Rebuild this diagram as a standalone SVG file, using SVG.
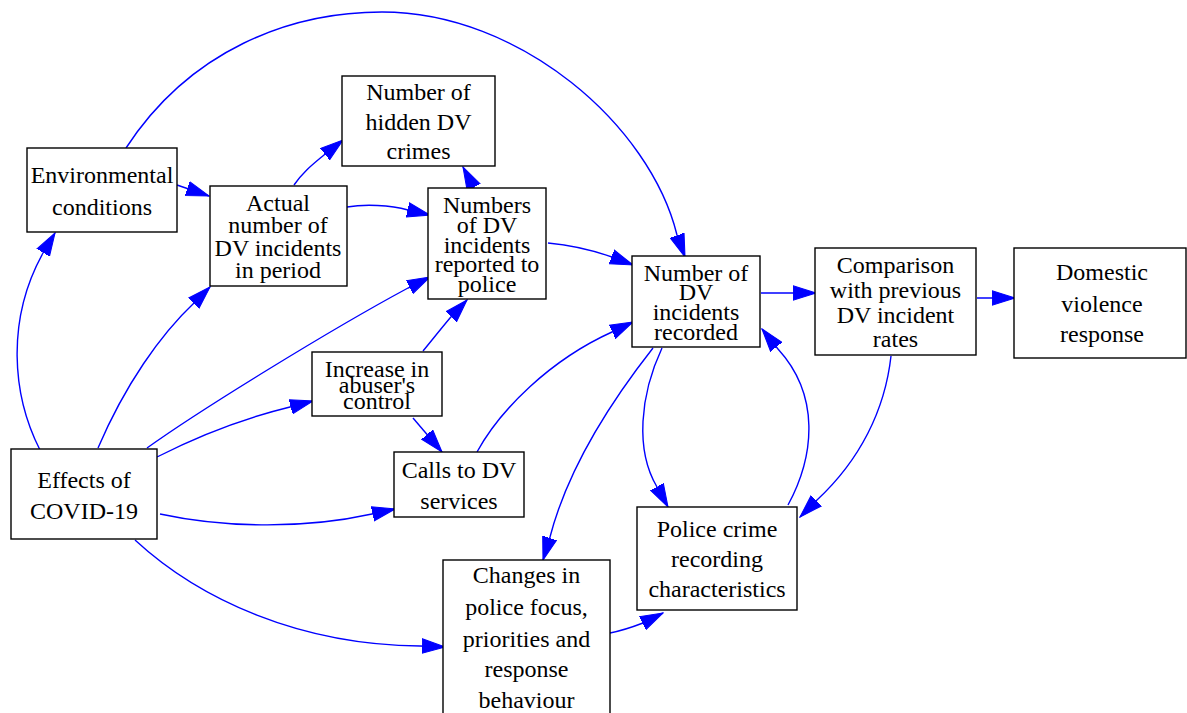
<svg xmlns="http://www.w3.org/2000/svg" width="1187" height="713" viewBox="0 0 1187 713">
  <style>
    .box { fill: #ffffff; stroke: #000000; stroke-width: 1.4; }
    .lbl { font-family: "Liberation Serif", "Times New Roman", serif; font-size: 24px; fill: #000000; text-anchor: middle; }
    .edge { fill: none; stroke: #0000ff; stroke-width: 1.4; marker-end: url(#arrow); }
  </style>
  <defs>
    <marker id="arrow" markerUnits="userSpaceOnUse" markerWidth="24" markerHeight="16" viewBox="0 0 23 14" refX="22" refY="7" orient="auto">
      <path d="M0,0 L22,7 L0,14 z" fill="#0000ff" stroke="#0000ff" stroke-width="1"/>
    </marker>
  </defs>
  <rect width="1187" height="713" fill="#ffffff"/>

  <g id="connectors">
    <path class="edge" d="M40,450 C12,395 6,320 43,253 L55,233"/>
    <path class="edge" d="M98,448 C125,385 160,335 195,302 L210,287"/>
    <path class="edge" d="M147,448 C200,410 330,330 408,288 L430,277"/>
    <path class="edge" d="M157,457 C200,435 245,418 290,407 L313,401"/>
    <path class="edge" d="M160,514 C220,527 300,530 372,514 L395,509"/>
    <path class="edge" d="M135,540 C200,600 300,645 420,646 L445,647"/>
    <path class="edge" d="M177,185 L209,196"/>
    <path class="edge" d="M126,148 C190,50 290,12 382,12 C520,12 650,125 677,235 L685,257"/>
    <path class="edge" d="M294,185 C303,172 312,165 324,155 L343,140"/>
    <path class="edge" d="M347,207 C365,204 390,205 408,210 L430,215"/>
    <path class="edge" d="M474,188 L463,167"/>
    <path class="edge" d="M548,243 C570,245 592,250 612,257 L633,265"/>
    <path class="edge" d="M423,351 C432,340 440,330 450,318 L467,300"/>
    <path class="edge" d="M413,418 L442,452"/>
    <path class="edge" d="M477,452 C500,410 550,360 612,332 L633,322"/>
    <path class="edge" d="M761,293 L816,293"/>
    <path class="edge" d="M977,298 L1015,298"/>
    <path class="edge" d="M653,348 C620,390 570,460 550,537 L543,560"/>
    <path class="edge" d="M662,348 C640,395 635,450 657,487 L668,507"/>
    <path class="edge" d="M788,505 C815,455 820,395 778,349 L762,329"/>
    <path class="edge" d="M891,356 C885,410 860,460 817,500 L800,517"/>
    <path class="edge" d="M610,633 C620,631 630,628 643,623 L663,613"/>
  </g>

  <g id="env">
    <rect class="box" x="27" y="148" width="150" height="84"/>
    <text class="lbl" x="102" y="183">Environmental</text>
    <text class="lbl" x="102" y="215">conditions</text>
  </g>
  <g id="actual">
    <rect class="box" x="210" y="186" width="137" height="100"/>
    <text class="lbl" x="278" y="211">Actual</text>
    <text class="lbl" x="278" y="233">number of</text>
    <text class="lbl" x="278" y="256">DV incidents</text>
    <text class="lbl" x="278" y="278">in period</text>
  </g>
  <g id="hidden">
    <rect class="box" x="342" y="76" width="153" height="90"/>
    <text class="lbl" x="418.5" y="100">Number of</text>
    <text class="lbl" x="418.5" y="130">hidden DV</text>
    <text class="lbl" x="418.5" y="159">crimes</text>
  </g>
  <g id="reported">
    <rect class="box" x="428" y="188" width="118" height="111"/>
    <text class="lbl" x="487" y="213">Numbers</text>
    <text class="lbl" x="487" y="233">of DV</text>
    <text class="lbl" x="487" y="253">incidents</text>
    <text class="lbl" x="487" y="272">reported to</text>
    <text class="lbl" x="487" y="292">police</text>
  </g>
  <g id="increase">
    <rect class="box" x="312" y="352" width="130" height="64"/>
    <text class="lbl" x="377" y="377">Increase in</text>
    <text class="lbl" x="377" y="393">abuser's</text>
    <text class="lbl" x="377" y="409">control</text>
  </g>
  <g id="calls">
    <rect class="box" x="394" y="452" width="130" height="65"/>
    <text class="lbl" x="459" y="478">Calls to DV</text>
    <text class="lbl" x="459" y="509">services</text>
  </g>
  <g id="recorded">
    <rect class="box" x="632" y="256" width="128" height="91"/>
    <text class="lbl" x="696" y="281">Number of</text>
    <text class="lbl" x="696" y="300">DV</text>
    <text class="lbl" x="696" y="320">incidents</text>
    <text class="lbl" x="696" y="340">recorded</text>
  </g>
  <g id="comparison">
    <rect class="box" x="815" y="248" width="161" height="107"/>
    <text class="lbl" x="895.5" y="273">Comparison</text>
    <text class="lbl" x="895.5" y="298">with previous</text>
    <text class="lbl" x="895.5" y="323">DV incident</text>
    <text class="lbl" x="895.5" y="347">rates</text>
  </g>
  <g id="response">
    <rect class="box" x="1014" y="248" width="172" height="110"/>
    <text class="lbl" x="1102" y="280">Domestic</text>
    <text class="lbl" x="1102" y="312">violence</text>
    <text class="lbl" x="1102" y="342">response</text>
  </g>
  <g id="changes">
    <rect class="box" x="443" y="560" width="167" height="170"/>
    <text class="lbl" x="526.5" y="583">Changes in</text>
    <text class="lbl" x="526.5" y="615">police focus,</text>
    <text class="lbl" x="526.5" y="647">priorities and</text>
    <text class="lbl" x="526.5" y="677">response</text>
    <text class="lbl" x="526.5" y="708">behaviour</text>
  </g>
  <g id="police">
    <rect class="box" x="637" y="507" width="160" height="103"/>
    <text class="lbl" x="717" y="537">Police crime</text>
    <text class="lbl" x="717" y="567">recording</text>
    <text class="lbl" x="717" y="597">characteristics</text>
  </g>
  <g id="covid">
    <rect class="box" x="11" y="449" width="146" height="90"/>
    <text class="lbl" x="84" y="488">Effects of</text>
    <text class="lbl" x="84" y="519">COVID-19</text>
  </g>
</svg>
